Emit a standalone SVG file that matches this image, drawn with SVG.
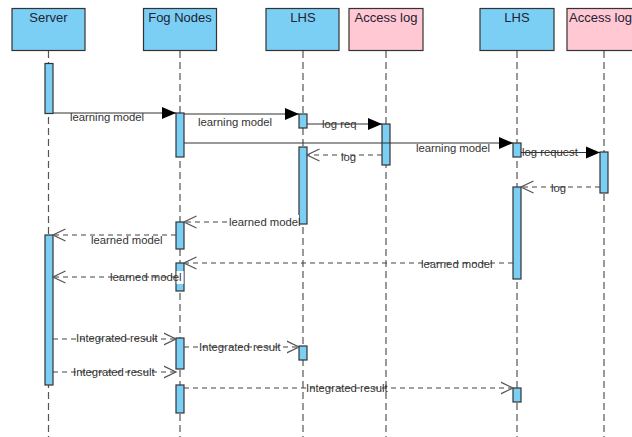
<svg xmlns="http://www.w3.org/2000/svg" width="632" height="437" viewBox="0 0 632 437">
<style>
.hd{stroke:#333;stroke-width:1.2}
.blue{fill:#7ccff4}
.pink{fill:#ffc8d3}
.ht{font-family:"Liberation Sans",Arial,sans-serif;font-size:13px;fill:#223;text-anchor:middle}
.life{stroke:#555;stroke-width:1.2;stroke-dasharray:7 4;fill:none}
.bar{fill:#7ccff4;stroke:#333;stroke-width:1.2}
.sync{stroke:#333;stroke-width:1.2;fill:none}
.ret{stroke:#444;stroke-width:1.2;stroke-dasharray:5 4;fill:none}
.lb{font-family:"Liberation Sans",Arial,sans-serif;font-size:11.3px;fill:#333}
</style>
<defs>
<marker id="fa" markerUnits="userSpaceOnUse" markerWidth="15" markerHeight="13" refX="14" refY="6.5" orient="auto" viewBox="0 0 15 13">
<path d="M0,0.5 L14,6.5 L0,12.5 z" fill="#000"/>
</marker>
<marker id="oa" markerUnits="userSpaceOnUse" markerWidth="14" markerHeight="14" refX="12.5" refY="7" orient="auto" viewBox="0 0 14 14">
<path d="M0,1 L12.5,7 L0,13" fill="none" stroke="#555" stroke-width="1.2"/>
</marker>
</defs>
<rect width="632" height="437" fill="#fff"/>

<g id="lifelines">
<line class="life" x1="48.5" y1="51" x2="48.5" y2="437"/>
<line class="life" x1="180" y1="51" x2="180" y2="437"/>
<line class="life" x1="303" y1="51" x2="303" y2="437"/>
<line class="life" x1="386" y1="51" x2="386" y2="437"/>
<line class="life" x1="517" y1="51" x2="517" y2="437"/>
<line class="life" x1="604" y1="51" x2="604" y2="437"/>
</g>

<g id="server"><rect class="hd blue" x="12" y="8.5" width="73" height="42"/><text class="ht" x="48.5" y="22">Server</text></g>
<g id="fog"><rect class="hd blue" x="143.5" y="8.5" width="73" height="42"/><text class="ht" x="180" y="22">Fog Nodes</text></g>
<g id="lhs1"><rect class="hd blue" x="266" y="8.5" width="73" height="42"/><text class="ht" x="303" y="22">LHS</text></g>
<g id="log1"><rect class="hd pink" x="349" y="8.5" width="74" height="42"/><text class="ht" x="386" y="22">Access log</text></g>
<g id="lhs2"><rect class="hd blue" x="480" y="8.5" width="74" height="42"/><text class="ht" x="517" y="22">LHS</text></g>
<g id="log2"><rect class="hd pink" x="567" y="8.5" width="74" height="42"/><text class="ht" x="600.5" y="22">Access log</text></g>

<g id="activations">
<rect class="bar" x="45" y="63.5" width="8" height="50"/>
<rect class="bar" x="45" y="235" width="8" height="150"/>
<rect class="bar" x="176" y="113" width="8" height="44"/>
<rect class="bar" x="176" y="222" width="8" height="27"/>
<rect class="bar" x="176" y="263" width="8" height="28"/>
<rect class="bar" x="176" y="338" width="8" height="31"/>
<rect class="bar" x="176" y="385" width="8" height="28"/>
<rect class="bar" x="299" y="114" width="8" height="14"/>
<rect class="bar" x="299" y="147" width="8" height="77"/>
<rect class="bar" x="299" y="346" width="8" height="14"/>
<rect class="bar" x="382" y="124" width="8" height="41"/>
<rect class="bar" x="513" y="143" width="8" height="14"/>
<rect class="bar" x="513" y="187" width="8" height="92"/>
<rect class="bar" x="513" y="388" width="8" height="14"/>
<rect class="bar" x="600" y="152" width="8" height="41"/>
</g>

<g id="connectors">
<line class="sync" x1="53" y1="113" x2="176" y2="113" marker-end="url(#fa)"/>
<line class="sync" x1="184" y1="114" x2="299" y2="114" marker-end="url(#fa)"/>
<line class="sync" x1="307" y1="124" x2="382" y2="124" marker-end="url(#fa)"/>
<line class="sync" x1="184" y1="143" x2="513" y2="143" marker-end="url(#fa)"/>
<line class="sync" x1="521" y1="152.5" x2="600" y2="152.5" marker-end="url(#fa)"/>
<line class="ret" x1="382" y1="155" x2="307" y2="155" marker-end="url(#oa)"/>
<line class="ret" x1="600" y1="187" x2="521" y2="187" marker-end="url(#oa)"/>
<line class="ret" x1="299" y1="222" x2="184" y2="222" marker-end="url(#oa)"/>
<line class="ret" x1="176" y1="235" x2="53" y2="235" marker-end="url(#oa)"/>
<line class="ret" x1="513" y1="263" x2="184" y2="263" marker-end="url(#oa)"/>
<line class="ret" x1="176" y1="277" x2="53" y2="277" marker-end="url(#oa)"/>
<line class="ret" x1="53" y1="339" x2="176" y2="339" marker-end="url(#oa)"/>
<line class="ret" x1="184" y1="347" x2="299" y2="347" marker-end="url(#oa)"/>
<line class="ret" x1="53" y1="372" x2="176" y2="372" marker-end="url(#oa)"/>
<line class="ret" x1="184" y1="388" x2="513" y2="388" marker-end="url(#oa)"/>
</g>

<g id="labels">
<text class="lb" x="70" y="121">learning model</text>
<text class="lb" x="198" y="126">learning model</text>
<text class="lb" x="322" y="128">log req</text>
<text class="lb" x="416" y="152">learning model</text>
<text class="lb" x="522" y="156">log request</text>
<text class="lb" x="341" y="161">log</text>
<text class="lb" x="551" y="192">log</text>
<rect x="229" y="215" width="70" height="13" fill="#fff"/>
<text class="lb" x="229" y="226">learned model</text>
<text class="lb" x="91" y="244">learned model</text>
<text class="lb" x="421" y="268">learned model</text>
<rect x="176.6" y="271" width="7" height="13" fill="#fff"/>
<text class="lb" x="110" y="281">learned model</text>
<text class="lb" x="76" y="342">Integrated result</text>
<text class="lb" x="199" y="351">Integrated result</text>
<text class="lb" x="73" y="376">Integrated result</text>
<text class="lb" x="306" y="392">Integrated result</text>
</g>
</svg>
